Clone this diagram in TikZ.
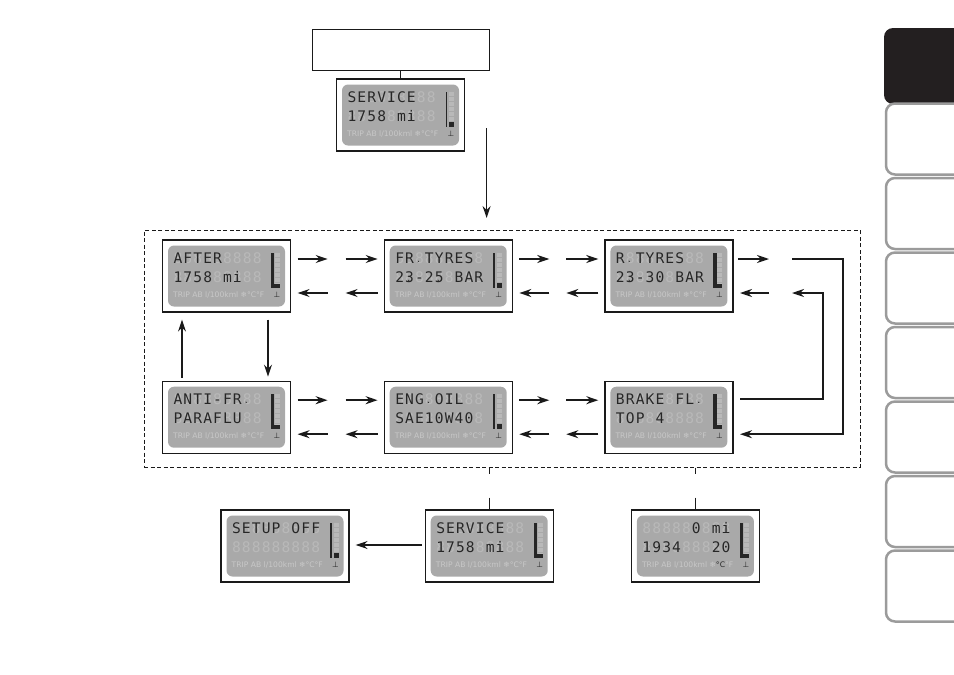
\documentclass[tikz,border=0pt]{standalone}
\usepackage{fontspec}
\usetikzlibrary{arrows.meta,positioning,calc}
\newfontfamily\lcdfont{DejaVu Sans Mono}
\newfontfamily\statfont{DejaVu Sans}
\definecolor{ink}{HTML}{1A1A1A}
\definecolor{lcdbg}{HTML}{A9A9A9}
\definecolor{lcdghost}{HTML}{B9B9B9}
\definecolor{lcdink}{HTML}{262626}
\definecolor{lcdfaint}{HTML}{C8C8C8}
\definecolor{tabgrey}{HTML}{9B9B9B}
\definecolor{tabdark}{HTML}{231F20}
\tikzset{
  lcdbox/.style={draw=ink,fill=white,line width=1.2pt,minimum width=128pt,minimum height=72pt,inner sep=0pt},
  lcdscreen/.style={fill=lcdbg,rounded corners=6pt,minimum width=117pt,minimum height=61pt,inner sep=0pt},
  lcdon/.style={anchor=base,inner sep=0pt,text=lcdink,font=\lcdfont\fontsize{14.6}{15}\selectfont},
  lcdoff/.style={lcdon,text=lcdghost},
  lcdstat/.style={anchor=base west,inner sep=0pt,text=lcdfaint,font=\statfont\fontsize{7.6}{9}\selectfont},
  flow/.style={-{Stealth[length=12pt,width=8pt]},line width=1.5pt,draw=ink},
  link/.style={line width=0.9pt,draw=ink},
  loopbox/.style={draw=ink,dash pattern=on 4pt off 2.5pt,line width=1pt,inner sep=0pt},
  tabline/.style={draw=tabgrey,line width=2.5pt,rounded corners=9pt}
}
% bar graph at the right of each display
\newcommand\barfull[1]{%
  \fill[lcdink] ($(#1)+(44.5,-23)$) rectangle ($(#1)+(47.8,11.5)$);
  \fill[lcdink] ($(#1)+(44.5,8)$) rectangle ($(#1)+(53.5,11.5)$);}
\newcommand\barlow[1]{%
  \fill[lcdink] ($(#1)+(45,-23)$) rectangle ($(#1)+(46.6,11.5)$);
  \fill[lcdink] ($(#1)+(48.5,6.5)$) rectangle ($(#1)+(53.5,11.5)$);}
% one display: name, placement, line 1, line 2, bar, colour of degC
\newcommand\lcd[6]{%
  \node[lcdbox,#2] (#1) {};
  \node[lcdscreen] (#1-scr) at (#1) {};
  \foreach \ch [count=\i] in {#3} {
    \node[lcdoff] (#1-ga\i) at ($(#1)+(-58.45+9.9*\i,-12.5)$) {8};
    \node[lcdon] (#1-a\i) at ($(#1)+(-58.45+9.9*\i,-12.5)$) {\ch};
  }
  \foreach \ch [count=\i] in {#4} {
    \node[lcdoff] (#1-gb\i) at ($(#1)+(-58.45+9.9*\i,6.5)$) {8};
    \node[lcdon] (#1-b\i) at ($(#1)+(-58.45+9.9*\i,6.5)$) {\ch};
  }
  \foreach \s in {0,...,6}
    \fill[lcdghost] ($(#1)+(48.5,-23+5*\s)$) rectangle ($(#1)+(53.5,-19+5*\s)$);
  #5{#1}
  \node[lcdstat] (#1-st) at ($(#1)+(-53.5,21.5)$) {TRIP AB l/100kml ❄\textcolor{#6}{°C}°F};
  \node[lcdstat,anchor=base,text=lcdink] (#1-ic) at ($(#1)+(50.5,21.5)$) {⊥};
}

\begin{document}
\begin{tikzpicture}[x=1pt,y=-1pt]
  \useasboundingbox (0,0) rectangle (954,675);

  % side tabs
  \fill[tabdark,rounded corners=9pt] (962,28) -- (884,28) -- (884,104) -- (962,104) -- cycle;
  \foreach \t in {1,...,7}
    \draw[tabline] (962,{29+74.5*\t}) -- (886,{29+74.5*\t}) -- (886,{100+74.5*\t}) -- (962,{100+74.5*\t});

  % displays
  \lcd{svctop}{at={(400.5,115)}}{S,E,R,V,I,C,E,,}{1,7,5,8,,m,i,,}{\barlow}{lcdfaint}
  \node[draw=ink,line width=0.9pt,minimum width=177pt,minimum height=41pt,above=8pt of svctop] (note) {};
  \draw[link] (note) -- (svctop);

  \lcd{after}{at={(226.5,276)}}{A,F,T,E,R,,,,}{1,7,5,8,,m,i,,}{\barfull}{lcdfaint}
  \lcd{frtyres}{right=92.5pt of after}{F,R\rlap{.},,T,Y,R,E,S,}{2\rlap{.},3,-,2\rlap{.},5,,B,A,R}{\barlow}{lcdfaint}
  \lcd{rtyres}{right=91.5pt of frtyres}{R\rlap{.},,T,Y,R,E,S,,}{2\rlap{.},3,-,3\rlap{.},0,,B,A,R}{\barfull}{lcdfaint}
  \lcd{antifr}{below=68pt of after}{A,N,T,I,-,F,R\rlap{.},,}{P,A,R,A,F,L,U,,}{\barfull}{lcdfaint}
  \lcd{engoil}{below=68pt of frtyres}{E,N,G\rlap{.},,O,I,L,,}{S,A,E,1,0,W,4,0,}{\barlow}{lcdfaint}
  \lcd{brakefl}{below=68pt of rtyres}{B,R,A,K,E,,F,L\rlap{.},}{T,O,P,,4,,,,}{\barfull}{lcdfaint}

  \lcd{setupoff}{at={(285,546)}}{S,E,T,U,P,,O,F,F}{,,,,,,,,}{\barlow}{lcdfaint}
  \lcd{svcbot}{right=75pt of setupoff}{S,E,R,V,I,C,E,,}{1,7,5,8,,m,i,,}{\barfull}{lcdfaint}
  \lcd{zeromi}{right=77pt of svcbot}{,,,,,0,,m,i}{1,9,3,4,,,,2,0}{\barfull}{lcdink}

  % the setup loop
  \node[loopbox,minimum width=716pt,minimum height=237pt] (loop) at (502,348.5) {};
  \draw[flow] ($(svctop.east)+(21.5,13)$) -- ++(0,90);

  \foreach \a/\b in {after/frtyres,frtyres/rtyres,antifr/engoil,engoil/brakefl} {
    \draw[flow] ($(\a.east)+(6.5,-17)$) -- ($(\a.east)+(36.5,-17)$);
    \draw[flow] ($(\b.west)+(-38,-17)$) -- ($(\b.west)+(-6,-17)$);
    \draw[flow] ($(\a.east)+(36.5,17)$) -- ($(\a.east)+(6.5,17)$);
    \draw[flow] ($(\b.west)+(-6,17)$) -- ($(\b.west)+(-38,17)$);
  }
  \draw[flow] ($(rtyres.east)+(4.5,-17)$) -- ++(31,0);
  \draw[flow] ($(rtyres.east)+(35.5,17)$) -- ++(-29,0);
  \draw[flow] ($(rtyres.east)+(58.5,-17)$) -| ($(brakefl.east)+(109.5,17)$) -- ($(brakefl.east)+(6.5,17)$);
  \draw[flow] ($(brakefl.east)+(6.5,-18)$) -| ($(rtyres.east)+(89.5,17)$) -- ($(rtyres.east)+(58.5,17)$);
  \draw[flow] ($(antifr.north)+(-44.5,-3)$) -- ($(after.south)+(-44.5,7)$);
  \draw[flow] ($(after.south)+(41.5,7)$) -- ($(antifr.north)+(41.5,-4)$);

  % leaving the loop
  \draw[link,dash pattern=on 6pt off 24pt on 20pt off 1pt] (loop.south -| svcbot.north) -- (svcbot.north);
  \draw[link,dash pattern=on 6pt off 24pt on 20pt off 1pt] (loop.south -| zeromi.north) -- (zeromi.north);
  \draw[flow] ($(svcbot.west)+(-3,-1)$) -- ($(setupoff.east)+(6,-1)$);
\end{tikzpicture}
\end{document}
